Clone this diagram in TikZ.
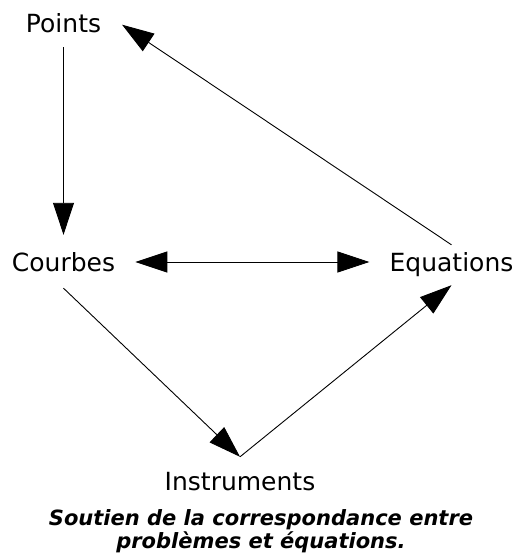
\documentclass[tikz,border=0pt]{standalone}
\usepackage{fontspec}
\setmainfont{DejaVu Sans}
\usetikzlibrary{arrows.meta}
\begin{document}
\begin{tikzpicture}[
    x=1pt, y=-1pt,
    label/.style={inner sep=0pt, anchor=base, text height=21pt, text depth=3pt, font=\fontsize{25}{30}\selectfont},
    caption/.style={inner sep=0pt, anchor=base, align=center, font=\fontsize{21}{20}\selectfont\bfseries\itshape},
    arrow/.style={->, >={Triangle[length=32pt, width=21pt]}, line width=0.9pt},
    dblarrow/.style={arrow, <->}
]
\useasboundingbox (0,0) rectangle (518,558);
% Nodes
\node[label] (points) at (63.5, 32) {Points};
\node[label] (courbes) at (63.5, 271) {Courbes};
\node[label] (equations) at (451.5, 271) {Equations};
\node[label] (instruments) at (240, 490) {Instruments};
\node[caption] (legende) at (261, 548) {Soutien de la correspondance entre\\problèmes et équations.};
% Arrows
\draw[arrow] ([yshift=-12pt]points.south) -- ([yshift=15pt]courbes.north);
\draw[dblarrow] ([xshift=20pt]courbes.east) -- ([xshift=-20pt]equations.west);
\draw[arrow, shorten >=25pt] ([yshift=5pt]equations.north) -- (points.north east);
\draw[arrow] ([yshift=-14pt]courbes.south) -- ([yshift=12pt]instruments.north);
\draw[arrow] ([yshift=12pt]instruments.north) -- ([yshift=-11pt]equations.south);
\end{tikzpicture}
\end{document}
